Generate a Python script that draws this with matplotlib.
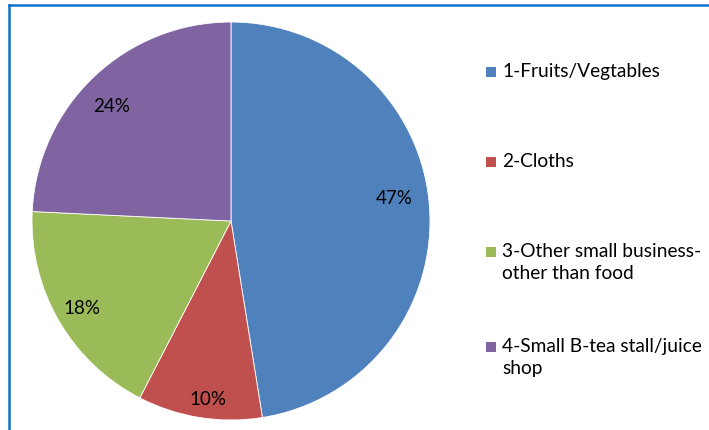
import matplotlib.pyplot as plt
import matplotlib.transforms as mtransforms
from matplotlib.lines import Line2D
from matplotlib.patches import Rectangle

labels = ['1-Fruits/Vegtables', '2-Cloths', '3-Other small business-\nother than food',
          '4-Small B-tea stall/juice\nshop']
values = [47, 10, 18, 24]
colors = ['#4F81BD', '#C0504D', '#9BBB59', '#8064A2']

plt.rcParams['font.family'] = ['Lato', 'DejaVu Sans']

fig = plt.figure(figsize=(7.09, 4.31), dpi=100)
ax = fig.add_axes([0.0451, 0.0232, 0.5614, 0.9234])

wedges, texts, autotexts = ax.pie(values, colors=colors, startangle=90, counterclock=False,
                                  autopct=lambda p: f'{p:.0f}%', pctdistance=0.84,
                                  wedgeprops=dict(linewidth=0.6, edgecolor='white'),
                                  textprops=dict(fontsize=13.5, color='black'))
ax.set_xlim(-1, 1)
ax.set_ylim(-1, 1)
ax.set_aspect('equal')

# nudge the % labels the way Excel places them (pixel offsets)
nudges = [(-3, 10), (3, -12), (-4, -3), (-4, -5)]
for t, (dx, dy) in zip(autotexts, nudges):
    t.set_transform(t.get_transform() + mtransforms.ScaledTranslation(dx / 100, dy / 100,
                                                                      fig.dpi_scale_trans))

# legend drawn by hand (square + text, wide spacing like Excel)
leg_y = [73, 163, 253, 348]  # pixel rows of first line
for lab, col, y in zip(labels, colors, leg_y):
    fy = 1 - y / 431
    fig.add_artist(Rectangle((486 / 709, fy - 5 / 431), 10 / 709, 10 / 431,
                             transform=fig.transFigure, facecolor=col, edgecolor='none'))
    fig.text(502 / 709, fy + 10 / 431, lab, fontsize=13.8, va='top', ha='left',
             linespacing=1.35)

# blue frame on left and top
fig.add_artist(Line2D([9 / 709, 9 / 709], [0, 1 - 6 / 431], color='#0B72C9', lw=1.8,
                      transform=fig.transFigure))
fig.add_artist(Line2D([9 / 709, 1], [1 - 6 / 431, 1 - 6 / 431], color='#0B72C9', lw=1.8,
                      transform=fig.transFigure))

fig.savefig('out.png', dpi=100)
